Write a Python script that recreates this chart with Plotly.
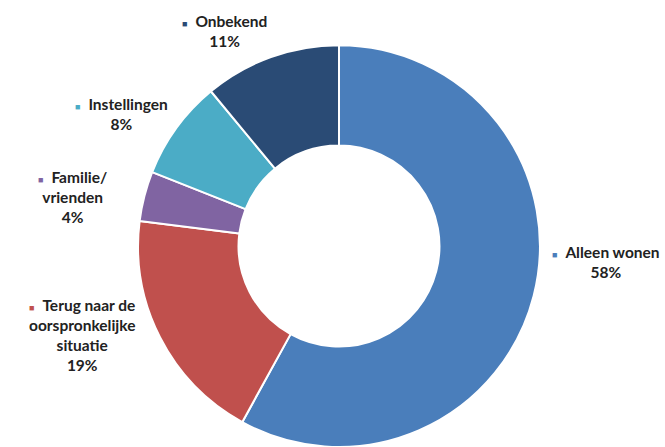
import plotly.graph_objects as go

labels = ["Alleen wonen", "Terug naar de oorspronkelijke situatie", "Familie/ vrienden", "Instellingen", "Onbekend"]
values = [58, 19, 4, 8, 11]
colors = ["#4a7ebb", "#c0504d", "#8064a2", "#4bacc6", "#2a4b75"]

# label display text (line breaks as in the reference)
label_lines = ["Alleen wonen", "Terug naar de<br>oorspronkelijke<br>situatie", "Familie/<br>vrienden", "Instellingen", "Onbekend"]
# label anchor positions in pixels (x, y from top)
label_pos = [(606, 261.5), (82, 335), (72, 197), (121, 114), (224, 31.5)]

W, H = 665, 447

fig = go.Figure(go.Pie(
    labels=labels,
    values=values,
    sort=False,
    direction="clockwise",
    rotation=0,
    hole=0.5,
    marker=dict(colors=colors, line=dict(color="white", width=2)),
    textinfo="none",
    hoverinfo="label+percent",
    domain=dict(x=[134 / W, 544 / W], y=[0.0, 0.899]),
    showlegend=False,
))

total = sum(values)
for lab, val, col, (px, py) in zip(label_lines, values, colors, label_pos):
    pct = round(100 * val / total)
    fig.add_annotation(
        x=px / W, y=1 - py / H, xref="paper", yref="paper",
        xanchor="center", yanchor="middle", align="center",
        showarrow=False,
        text=f"<span style='font-size:9px;color:{col}'>■</span>  <b>{lab}</b><br><b>{pct}%</b>",
        font=dict(family="Lato, sans-serif", size=15.5, color="#222222"),
    )

fig.update_layout(
    width=W, height=H,
    margin=dict(l=0, r=0, t=0, b=0),
    paper_bgcolor="white", plot_bgcolor="white",
)

fig.write_html("out.html", config={"displayModeBar": False},
               post_script="document.body.style.margin='0';")
